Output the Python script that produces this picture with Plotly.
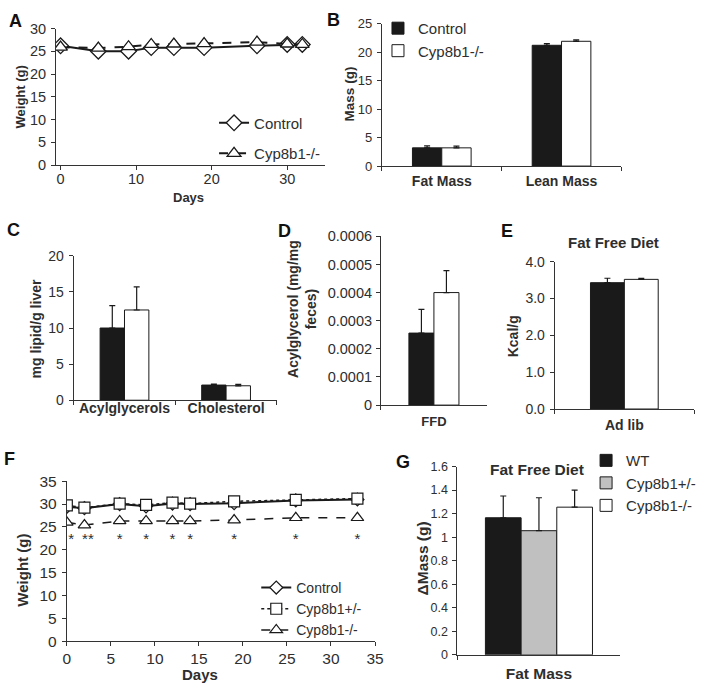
import plotly.graph_objects as go

# ---------------- data ----------------
# Panel A
days_A = [0, 5, 9, 12, 15, 19, 26, 30, 32]
A_control = [26.2, 25.0, 25.0, 25.8, 25.8, 25.8, 26.2, 26.5, 26.5]
A_ko = [25.9, 25.7, 26.0, 26.5, 26.6, 26.7, 27.0, 26.6, 26.5]

# Panel B
B_cats = ["Fat Mass", "Lean Mass"]
B_control = [3.2, 21.2]
B_control_err = [0.35, 0.3]
B_ko = [3.2, 21.9]
B_ko_err = [0.3, 0.25]

# Panel C
C_cats = ["Acylglycerols", "Cholesterol"]
C_control = [10.0, 2.1]
C_control_err = [3.1, 0.15]
C_ko = [12.5, 2.0]
C_ko_err = [3.2, 0.2]

# Panel D
D_cats = ["FFD"]
D_control = [0.000256]
D_control_err = [0.000084]
D_ko = [0.0004]
D_ko_err = [0.000078]
D_tickvals = [0, 0.0001, 0.0002, 0.0003, 0.0004, 0.0005, 0.0006]
D_ticktext = ["0", "0.0001", "0.0002", "0.0003", "0.0004", "0.0005", "0.0006"]

# Panel E
E_cats = ["Ad lib"]
E_control = [3.43]
E_control_err = [0.12]
E_ko = [3.52]
E_ko_err = [0.03]

# Panel F
days_F = [0, 2, 6, 9, 12, 14, 19, 26, 33]
F_control = [29.4, 29.1, 30.0, 29.5, 30.1, 30.0, 30.2, 30.8, 31.0]
F_het = [29.7, 29.2, 30.1, 29.8, 30.3, 30.1, 30.6, 30.9, 31.2]
F_ko = [26.0, 25.4, 26.3, 26.3, 26.3, 26.3, 26.5, 27.0, 27.0]
F_star_days = [0.5, 2.4, 6, 9, 12, 14, 19, 26, 33]
F_star_text = ["*", "**", "*", "*", "*", "*", "*", "*", "*"]
F_star_y = [22.0] * 9

# Panel G
G_cats = ["Fat Mass"]
G_wt = [1.165]
G_wt_err = [0.185]
G_het = [1.055]
G_het_err = [0.28]
G_ko = [1.255]
G_ko_err = [0.145]

# ---------------- helpers ----------------
W, H = 705, 697
FONT = "Liberation Sans, Arial, Helvetica, sans-serif"
TXT = "#2e2e2e"
BLK = "#1a1a1a"


def dx(a, b):
    return [a / W, b / W]


def dy(top, bottom):
    return [1 - bottom / H, 1 - top / H]


def px(x):
    return x / W


def py(y):
    return 1 - y / H


fig = go.Figure()


def axis_common(size, standoff=0):
    return dict(showline=True, linecolor="#333", linewidth=1, ticks="outside",
                ticklen=4, tickcolor="#333", showgrid=False, zeroline=False,
                ticklabelstandoff=standoff,
                tickfont=dict(family=FONT, size=size, color=TXT))


def err(arr, color=BLK):
    return dict(type="data", array=arr, arrayminus=[0] * len(arr), symmetric=False,
                color=color, thickness=1.2, width=3, visible=True)


# ---------------- Panel A ----------------
fig.add_trace(go.Scatter(x=days_A, y=A_control, mode="lines+markers", name="Control",
                         line=dict(color=BLK, width=2),
                         marker=dict(symbol="diamond", size=12, color="white",
                                     line=dict(color=BLK, width=1.3)),
                         xaxis="x", yaxis="y", legend="legend", legendgroup="a1"))
fig.add_trace(go.Scatter(x=days_A, y=A_ko, mode="lines+markers", name="Cyp8b1-/-",
                         line=dict(color=BLK, width=2, dash="dash"),
                         marker=dict(symbol="triangle-up", size=12, color="white",
                                     line=dict(color=BLK, width=1.3)),
                         xaxis="x", yaxis="y", legend="legend", legendgroup="a2"))

# ---------------- Panel B ----------------
wB = 0.245
fig.add_trace(go.Bar(x=B_cats, y=B_control, name="Control", width=wB, offset=-wB,
                     marker=dict(color=BLK, line=dict(color=BLK, width=1)),
                     error_y=err(B_control_err), xaxis="x2", yaxis="y2", legend="legend2"))
fig.add_trace(go.Bar(x=B_cats, y=B_ko, name="Cyp8b1-/-", width=wB, offset=0,
                     marker=dict(color="white", line=dict(color=BLK, width=1)),
                     error_y=err(B_ko_err), xaxis="x2", yaxis="y2", legend="legend2"))

# ---------------- Panel C ----------------
wC = 0.24
fig.add_trace(go.Bar(x=C_cats, y=C_control, name="Control", width=wC, offset=-wC,
                     marker=dict(color=BLK, line=dict(color=BLK, width=1)),
                     error_y=err(C_control_err), xaxis="x3", yaxis="y3", showlegend=False))
fig.add_trace(go.Bar(x=C_cats, y=C_ko, name="Cyp8b1-/-", width=wC, offset=0,
                     marker=dict(color="white", line=dict(color=BLK, width=1)),
                     error_y=err(C_ko_err), xaxis="x3", yaxis="y3", showlegend=False))

# ---------------- Panel D ----------------
wD = 0.236
fig.add_trace(go.Bar(x=D_cats, y=D_control, name="Control", width=wD, offset=-wD,
                     marker=dict(color=BLK, line=dict(color=BLK, width=1)),
                     error_y=err(D_control_err), xaxis="x4", yaxis="y4", showlegend=False))
fig.add_trace(go.Bar(x=D_cats, y=D_ko, name="Cyp8b1-/-", width=wD, offset=0,
                     marker=dict(color="white", line=dict(color=BLK, width=1)),
                     error_y=err(D_ko_err), xaxis="x4", yaxis="y4", showlegend=False))

# ---------------- Panel E ----------------
wE = 0.243
fig.add_trace(go.Bar(x=E_cats, y=E_control, name="Control", width=wE, offset=-wE,
                     marker=dict(color=BLK, line=dict(color=BLK, width=1)),
                     error_y=err(E_control_err), xaxis="x5", yaxis="y5", showlegend=False))
fig.add_trace(go.Bar(x=E_cats, y=E_ko, name="Cyp8b1-/-", width=wE, offset=0,
                     marker=dict(color="white", line=dict(color=BLK, width=1)),
                     error_y=err(E_ko_err), xaxis="x5", yaxis="y5", showlegend=False))

# ---------------- Panel F ----------------
fig.add_trace(go.Scatter(x=days_F, y=F_control, mode="lines+markers", name="Control",
                         line=dict(color=BLK, width=2),
                         marker=dict(symbol="diamond", size=10, color="white",
                                     line=dict(color=BLK, width=1.2)),
                         xaxis="x6", yaxis="y6", legend="legend3"))
fig.add_trace(go.Scatter(x=days_F, y=F_het, mode="lines+markers", name="Cyp8b1+/-",
                         line=dict(color=BLK, width=1.5, dash="dot"),
                         marker=dict(symbol="square", size=11, color="white",
                                     line=dict(color=BLK, width=1.2)),
                         xaxis="x6", yaxis="y6", legend="legend3"))
fig.add_trace(go.Scatter(x=days_F, y=F_ko, mode="lines+markers", name="Cyp8b1-/-",
                         line=dict(color=BLK, width=1.5, dash="dash"),
                         marker=dict(symbol="triangle-up", size=11, color="white",
                                     line=dict(color=BLK, width=1.2)),
                         xaxis="x6", yaxis="y6", legend="legend3"))
fig.add_trace(go.Scatter(x=F_star_days, y=F_star_y, mode="text", text=F_star_text,
                         textfont=dict(family=FONT, size=15, color=TXT),
                         showlegend=False, xaxis="x6", yaxis="y6", hoverinfo="skip"))

# ---------------- Panel G ----------------
wG = 0.219
fig.add_trace(go.Bar(x=G_cats, y=G_wt, name="WT", width=wG, offset=-1.5 * wG,
                     marker=dict(color=BLK, line=dict(color=BLK, width=1)),
                     error_y=err(G_wt_err), xaxis="x7", yaxis="y7", legend="legend4"))
fig.add_trace(go.Bar(x=G_cats, y=G_het, name="Cyp8b1+/-", width=wG, offset=-0.5 * wG,
                     marker=dict(color="#c0c0c0", line=dict(color=BLK, width=1)),
                     error_y=err(G_het_err), xaxis="x7", yaxis="y7", legend="legend4"))
fig.add_trace(go.Bar(x=G_cats, y=G_ko, name="Cyp8b1-/-", width=wG, offset=0.5 * wG,
                     marker=dict(color="white", line=dict(color=BLK, width=1)),
                     error_y=err(G_ko_err), xaxis="x7", yaxis="y7", legend="legend4"))

# ---------------- axes ----------------
lay = dict(width=W, height=H, margin=dict(l=0, r=0, t=0, b=0),
           paper_bgcolor="white", plot_bgcolor="white", barmode="overlay",
           font=dict(family=FONT, color=TXT), showlegend=True)

# A
lay["xaxis"] = dict(axis_common(14.5, -3), domain=dx(53, 327), range=[-0.6, 35],
                    tickvals=[0, 10, 20, 30], anchor="y")
lay["yaxis"] = dict(axis_common(14.5, 2), domain=dy(20, 160), range=[0, 30], dtick=5, anchor="x")
# B
lay["xaxis2"] = dict(axis_common(14, 2), domain=dx(385, 629), range=[-0.5, 1.5],
                     tickson="boundaries", anchor="y2")
lay["xaxis2"]["tickfont"]["weight"] = "bold"
lay["yaxis2"] = dict(axis_common(13, 2), domain=dy(15, 161), range=[0, 25], dtick=5, anchor="x2")
# C
lay["xaxis3"] = dict(axis_common(14, -5), domain=dx(71, 278), range=[-0.5, 1.5],
                     tickson="boundaries", anchor="y3")
lay["xaxis3"]["tickfont"]["weight"] = "bold"
lay["yaxis3"] = dict(axis_common(14, 2), domain=dy(253, 401), range=[0, 20], dtick=5, anchor="x3")
# D
lay["xaxis4"] = dict(axis_common(13, 4), domain=dx(384, 492), range=[-0.5, 0.5],
                     tickson="boundaries", anchor="y4")
lay["xaxis4"]["tickfont"]["weight"] = "bold"
lay["yaxis4"] = dict(axis_common(14.5, 1), domain=dy(233, 406), range=[0, 0.0006],
                     tickvals=D_tickvals, ticktext=D_ticktext, anchor="x4")
# E
lay["xaxis5"] = dict(axis_common(14, 3), domain=dx(561, 703), range=[-0.5, 0.5],
                     tickson="boundaries", anchor="y5")
lay["xaxis5"]["tickfont"]["weight"] = "bold"
lay["yaxis5"] = dict(axis_common(14, 2), domain=dy(259, 410), range=[0, 4], dtick=1,
                     tickformat=".1f", anchor="x5")
# F
lay["xaxis6"] = dict(axis_common(15.5, -1), domain=dx(64, 378), range=[0, 35], dtick=5, anchor="y6")
lay["yaxis6"] = dict(axis_common(15.5, 2), domain=dy(484, 648), range=[0, 35], dtick=5, anchor="x6")
# G
lay["xaxis7"] = dict(axis_common(15.5, 5), domain=dx(462, 628), range=[-0.5, 0.5],
                     tickson="boundaries", anchor="y7")
lay["xaxis7"]["tickfont"]["weight"] = "bold"
lay["yaxis7"] = dict(axis_common(12.5, 2), domain=dy(469, 662), range=[0, 1.6], dtick=0.2, anchor="x7")

# legends
leg_base = dict(bgcolor="rgba(0,0,0,0)", borderwidth=0, xanchor="left", yanchor="top",
                itemclick=False, itemdoubleclick=False)
lay["legend"] = dict(leg_base, x=px(214), y=py(100), tracegroupgap=8,
                     font=dict(family=FONT, size=15, color=TXT))
lay["legend2"] = dict(leg_base, x=px(381), y=py(3), tracegroupgap=0,
                      font=dict(family=FONT, size=15, color=TXT))
lay["legend3"] = dict(leg_base, x=px(257), y=py(577), tracegroupgap=0,
                      font=dict(family=FONT, size=14, color=TXT))
lay["legend4"] = dict(leg_base, x=px(593), y=py(446), tracegroupgap=0,
                      font=dict(family=FONT, size=15, color=TXT))

fig.update_layout(**lay)

# ---------------- annotations ----------------
ann = []


def text(x, y, s, size, bold=True, angle=0, color=TXT):
    ann.append(dict(x=px(x), y=py(y), xref="paper", yref="paper", text=s, showarrow=False,
                    xanchor="center", yanchor="middle", textangle=angle,
                    font=dict(family=FONT, size=size, color=color,
                              weight="bold" if bold else "normal")))


# panel letters
for letter, x, y in [("A", 12, 12), ("B", 336, 11), ("C", 10, 227), ("D", 286, 228),
                     ("E", 512, 228), ("F", 6, 461), ("G", 407, 464)]:
    text(x, y, letter, 18, color="#111")

# y-axis titles
text(17, 90, "Weight (g)", 13, angle=-90)
text(352, 87, "Mass (g)", 13.5, angle=-90)
text(33, 328, "mg lipid/g liver", 14, angle=-90)
text(303, 307, "Acylglycerol (mg/mg<br>feces)", 14, angle=-90)
text(518, 335, "Kcal/g", 14, angle=-90)
text(19, 575, "Weight (g)", 15, angle=-90)
text(426, 563, "ΔMass (g)", 15.5, angle=-90)

# x-axis titles and panel titles
text(188, 193, "Days", 13)
text(200, 682, "Days", 15)
text(621, 239, "Fat Free Diet", 15)
text(543, 472, "Fat Free Diet", 15.5)

fig.update_layout(annotations=ann)

fig.write_html("out.html", config={"displayModeBar": False},
               post_script="document.body.style.margin='0';document.body.style.overflow='hidden';")
